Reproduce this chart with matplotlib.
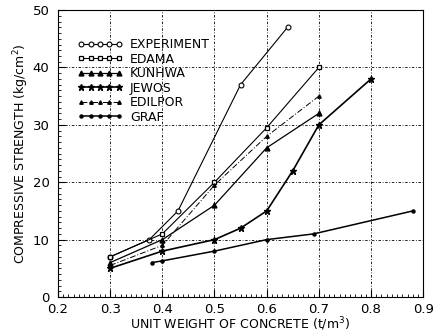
import matplotlib
matplotlib.use('Agg')
import matplotlib.pyplot as plt
from matplotlib.ticker import MultipleLocator, FormatStrFormatter

# data
exp_x = [0.3, 0.375, 0.43, 0.55, 0.64]
exp_y = [7, 10, 15, 37, 47]
edama_x = [0.3, 0.4, 0.5, 0.6, 0.7]
edama_y = [7, 11, 20, 29.5, 40]
kunhwa_x = [0.3, 0.4, 0.5, 0.6, 0.7]
kunhwa_y = [6, 10, 16, 26, 32]
jewos_x = [0.3, 0.4, 0.5, 0.55, 0.6, 0.65, 0.7, 0.8]
jewos_y = [5, 8, 10, 12, 15, 22, 30, 38]
edilpor_x = [0.3, 0.4, 0.5, 0.6, 0.7]
edilpor_y = [5.5, 9, 19.5, 28, 35]
graf_x = [0.38, 0.4, 0.5, 0.6, 0.69, 0.88]
graf_y = [6, 6.3, 8, 10, 11, 15]

plt.rcParams['font.family'] = 'DejaVu Sans'
plt.rcParams['font.size'] = 9

fig = plt.figure(figsize=(4.39, 3.36), dpi=100)
ax = fig.add_axes([0.132, 0.116, 0.832, 0.854])

ax.plot(exp_x, exp_y, color='k', lw=0.8, marker='o', ms=3.5, mfc='white', mew=0.8, label='EXPERIMENT')
ax.plot(edama_x, edama_y, color='k', lw=0.8, marker='s', ms=3.5, mfc='white', mew=0.9, label='EDAMA')
ax.plot(kunhwa_x, kunhwa_y, color='k', lw=0.9, marker='^', ms=3.5, label='KUNHWA')
ax.plot(jewos_x, jewos_y, color='k', lw=1.2, marker='*', ms=5, label='JEWOS')
ax.plot(edilpor_x, edilpor_y, color='k', lw=0.7, ls=(0, (6, 2, 1, 2)), marker='^', ms=2.5, label='EDILPOR')
ax.plot(graf_x, graf_y, color='k', lw=1.1, marker='o', ms=2.2, label='GRAF')

ax.set_xlim(0.2, 0.9)
ax.set_ylim(0, 50)
ax.xaxis.set_major_locator(MultipleLocator(0.1))
ax.xaxis.set_minor_locator(MultipleLocator(0.01))
ax.xaxis.set_major_formatter(FormatStrFormatter('%.1f'))
ax.yaxis.set_major_locator(MultipleLocator(10))
ax.yaxis.set_minor_locator(MultipleLocator(1))
ax.tick_params(which='both', direction='in', top=False, right=False)
ax.tick_params(which='major', length=5, labelsize=9.5)
ax.tick_params(which='minor', length=2.5)
ax.tick_params(axis='x', pad=4)
ax.tick_params(axis='y', pad=6)
ax.grid(True, which='major', color='k', lw=0.6, ls=(0, (3, 2, 1, 2)))
for s in ax.spines.values():
    s.set_linewidth(0.8)

ax.set_xlabel('UNIT WEIGHT OF CONCRETE (t/m$^3$)', labelpad=0)
ax.set_ylabel('COMPRESSIVE STRENGTH (kg/cm$^2$)', labelpad=1)

ax.legend(loc='upper left', bbox_to_anchor=(0.04, 0.92), frameon=False, numpoints=5,
          handlelength=3.6, handletextpad=0.6, labelspacing=0.12, borderaxespad=0)

fig.savefig('out.png', dpi=100)
